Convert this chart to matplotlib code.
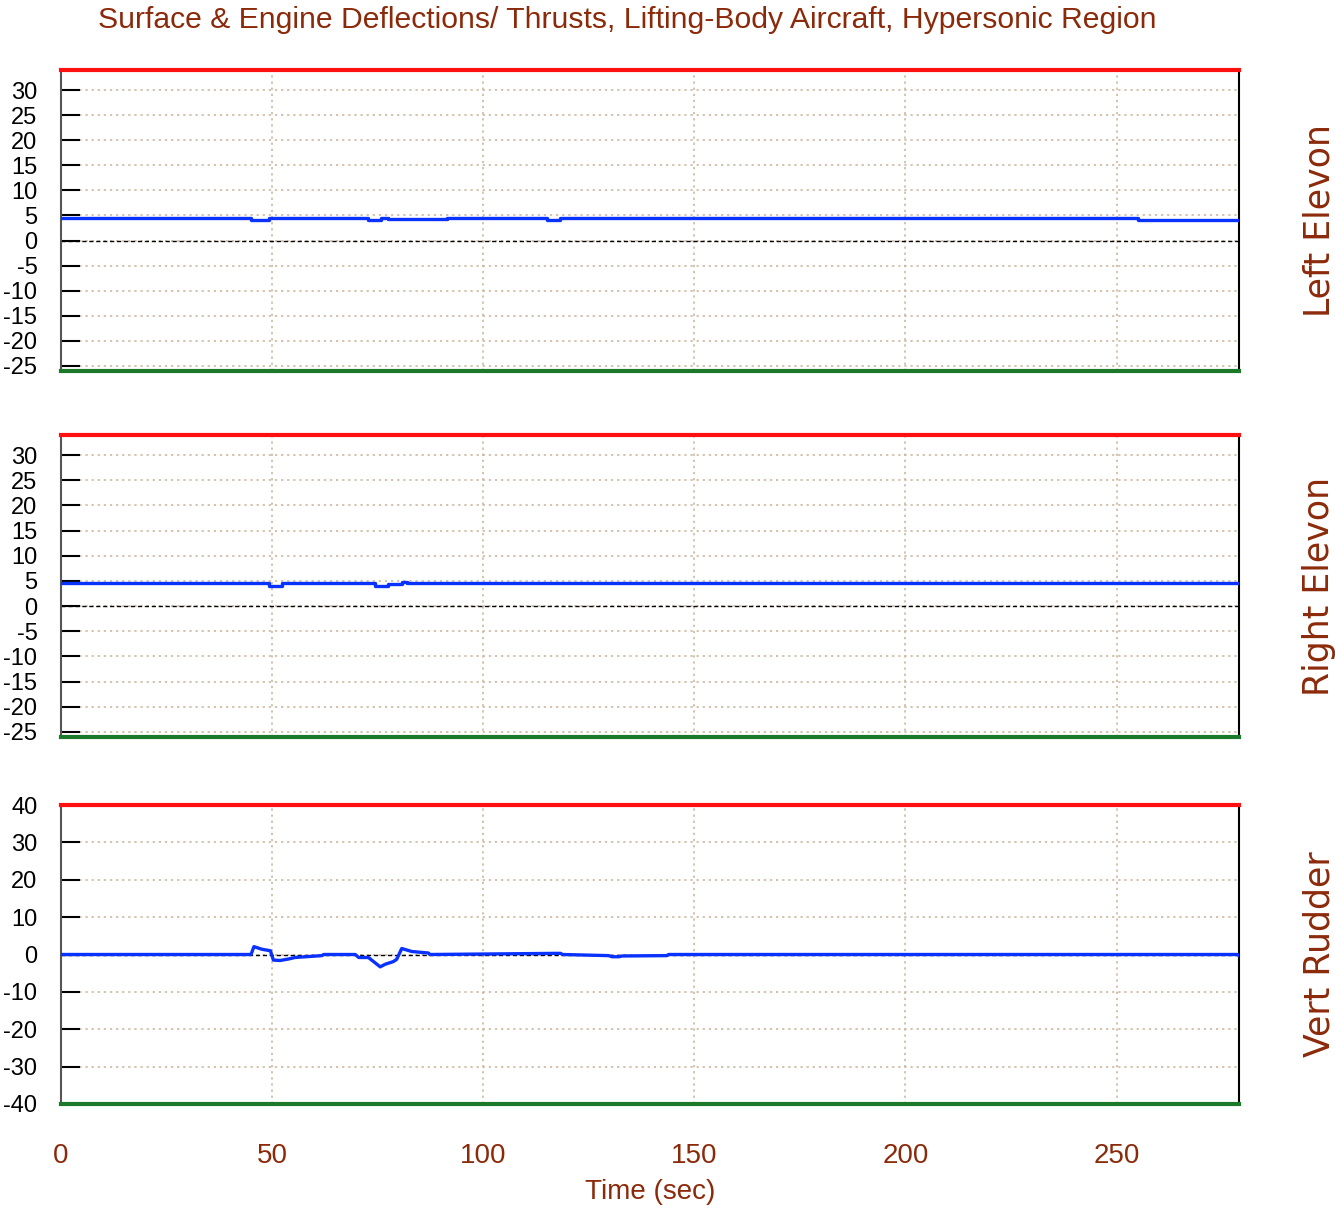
import matplotlib
matplotlib.use("Agg")
import matplotlib.pyplot as plt
import numpy as np

# ---- data ----
time_left = [0, 45, 45, 49.3, 49.3, 72.7, 72.7, 75.8, 75.8, 77.5, 77.5, 91.5, 91.5, 115, 115, 118.3, 118.3, 255, 255, 279]
left_elevon = [4.45, 4.45, 4.0, 4.0, 4.45, 4.45, 4.0, 4.0, 4.45, 4.45, 4.2, 4.2, 4.45, 4.45, 4.0, 4.0, 4.45, 4.45, 4.1, 4.1]

time_right = [0, 49.3, 49.3, 52.4, 52.4, 74.4, 74.4, 77.5, 77.5, 80.8, 80.8, 82, 82, 279]
right_elevon = [4.5, 4.5, 4.0, 4.0, 4.5, 4.5, 4.0, 4.0, 4.3, 4.3, 4.8, 4.8, 4.5, 4.5]

time_rud = [0, 45.0, 45.7, 47.6, 49.6, 50.3, 51.9, 53.9, 55.4, 61.8, 62.2, 69.7, 70.5, 72.8, 75.6,
            76.8, 78.7, 79.5, 80.7, 83.1, 87.0, 87.4, 117.1, 118.3, 118.8, 129.7, 130.5, 132.1,
            132.9, 143.5, 143.9, 278.5, 279]
vert_rudder = [0, 0, 2.1, 1.4, 1.0, -1.5, -1.6, -1.2, -0.8, -0.3, 0, 0, -0.8, -0.8, -3.3,
               -2.6, -1.9, -1.3, 1.6, 0.8, 0.4, 0, 0.3, 0.3, 0, -0.3, -0.6, -0.6,
               -0.4, -0.3, 0, 0, -0.3]

panel_labels = ["Left Elevon", "Right Elevon", "Vert Rudder"]
upper_limits = [34, 34, 40]
lower_limits = [-26, -26, -40]
yticks_el = [-25, -20, -15, -10, -5, 0, 5, 10, 15, 20, 25, 30]
yticks_rud = [-40, -30, -20, -10, 0, 10, 20, 30, 40]
xticks = [0, 50, 100, 150, 200, 250]

brown = "#8B2A0A"
plt.rcParams['font.family'] = ['Liberation Sans', 'DejaVu Sans']
plt.rcParams['axes.unicode_minus'] = False

fig = plt.figure(figsize=(13.35, 12.09), dpi=100)
W, H = 1335, 1209
left, right = 61 / W, 1239 / W
boxes = [(70, 371), (435, 737), (805, 1104)]

series = [(time_left, left_elevon, yticks_el), (time_right, right_elevon, yticks_el),
          (time_rud, vert_rudder, yticks_rud)]

for i, ((top, bot), (t, v, yt)) in enumerate(zip(boxes, series)):
    ax = fig.add_axes([left, 1 - bot / H, right - left, (bot - top) / H])
    ax.set_xlim(0, 279)
    ax.set_ylim(lower_limits[i], upper_limits[i])
    ax.set_yticks(yt)
    ax.set_xticks(xticks)
    ax.grid(True, color="#c8b49c", linestyle=(0, (1.5, 2.5)), linewidth=1.1)
    ax.axhline(0, color="black", linestyle=(0, (3, 2)), linewidth=1.0, zorder=2)
    ax.axhline(upper_limits[i], color="#ff1010", linewidth=3, clip_on=False, zorder=5)
    ax.axhline(lower_limits[i], color="#1a7a2a", linewidth=3, clip_on=False, zorder=5)
    ax.plot(t, v, color="#0a32ff", linewidth=2.4, zorder=4)
    for s in ["top", "bottom"]:
        ax.spines[s].set_visible(False)
    ax.spines["left"].set_color("#555555")
    ax.spines["left"].set_linewidth(1.5)
    ax.spines["right"].set_color("black")
    ax.spines["right"].set_linewidth(1.5)
    ax.tick_params(axis="y", direction="in", length=14, width=1.5, color="black",
                   labelsize=17, pad=17, right=False)
    if i < 2:
        ax.tick_params(axis="x", length=0, labelbottom=False)
    else:
        ax.tick_params(axis="x", length=0, labelsize=20, labelcolor=brown, pad=28)
        ax.set_xlabel("Time (sec)", color=brown, fontsize=20)
        ax.xaxis.set_label_coords(0.5, (1104 - 1192) / (1104 - 805))
        ax.xaxis.label.set_va("center")
    ax.text(1.068, 0.5, panel_labels[i], transform=ax.transAxes, rotation=90,
            ha="center", va="center", color=brown, fontsize=25,
            family=['DejaVu Sans'])

fig.text(0.47, 1 - 20 / H, "Surface & Engine Deflections/ Thrusts, Lifting-Body Aircraft, Hypersonic Region",
         ha="center", va="center", color=brown, fontsize=21.7)

fig.savefig("out.png", dpi=100)
